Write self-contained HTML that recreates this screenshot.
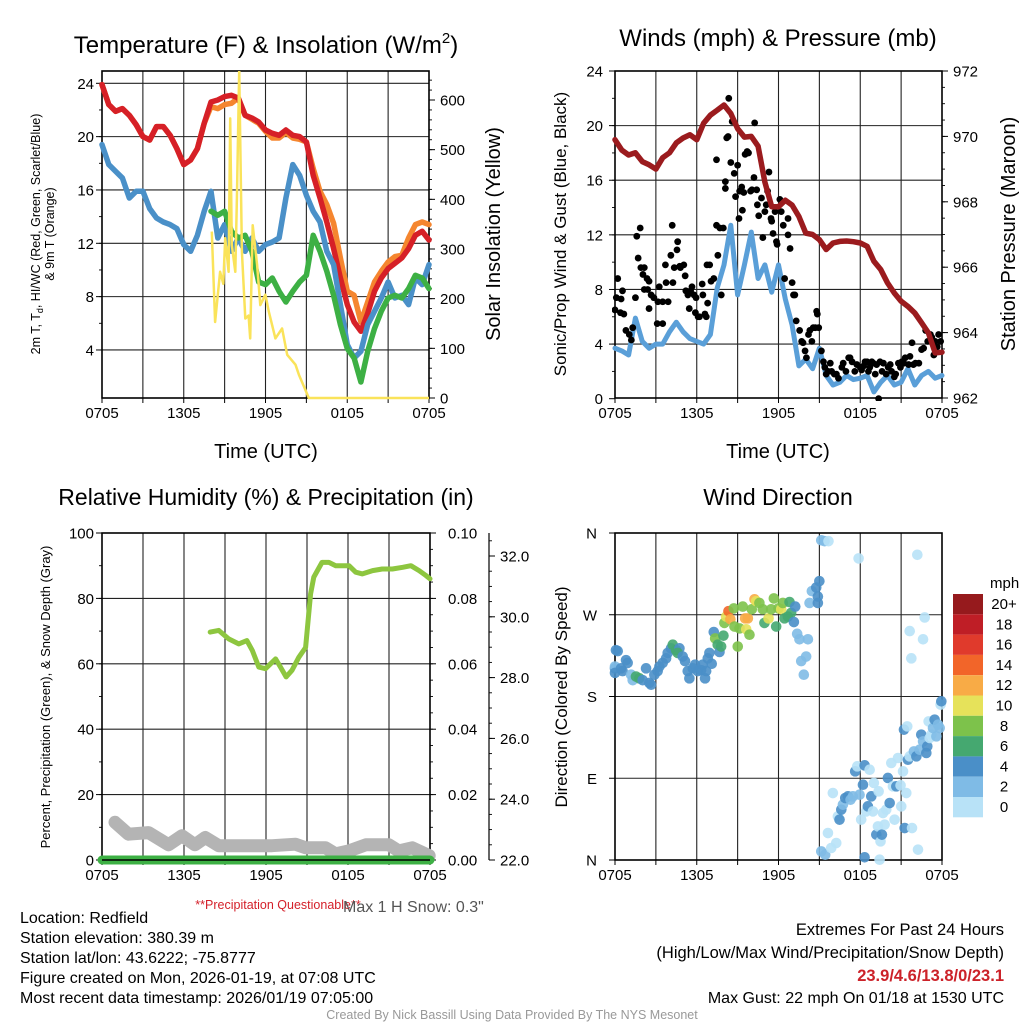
<!DOCTYPE html>
<html><head><meta charset="utf-8"><style>
html,body{margin:0;padding:0;background:#fff}
svg{display:block;font-family:"Liberation Sans",Arial,sans-serif}
</style></head><body>
<svg id="fig" width="1024" height="1024" viewBox="0 0 1024 1024" xmlns="http://www.w3.org/2000/svg">
<rect width="1024" height="1024" fill="#fff"/>
<g id="g1"></g>
<g id="g2"></g>
<g id="g3"></g>
<g id="g4"></g>
<text x="266" y="53" font-size="24" text-anchor="middle">Temperature (F) &amp; Insolation (W/m<tspan font-size="15" dy="-10">2</tspan><tspan dy="10">)</tspan></text>
<text x="778" y="46" font-size="24" text-anchor="middle">Winds (mph) &amp; Pressure (mb)</text>
<text x="266" y="505" font-size="23" text-anchor="middle">Relative Humidity (%) &amp; Precipitation (in)</text>
<text x="778" y="505" font-size="23" text-anchor="middle">Wind Direction</text>
<text x="266" y="458" font-size="20" text-anchor="middle">Time (UTC)</text>
<text x="778" y="458" font-size="20" text-anchor="middle">Time (UTC)</text>
<text transform="translate(40,234) rotate(-90)" font-size="12.5" text-anchor="middle">2m T, T<tspan font-size="9" dy="3">d</tspan><tspan dy="-3">, HI/WC (Red, Green, Scarlet/Blue)</tspan></text>
<text transform="translate(54,234) rotate(-90)" font-size="12.5" text-anchor="middle">&amp; 9m T (Orange)</text>
<text transform="translate(500,234) rotate(-90)" font-size="20" text-anchor="middle">Solar Insolation (Yellow)</text>
<text transform="translate(566,234) rotate(-90)" font-size="17" text-anchor="middle">Sonic/Prop Wind &amp; Gust (Blue, Black)</text>
<text transform="translate(1015,234) rotate(-90)" font-size="20" text-anchor="middle">Station Pressure (Maroon)</text>
<text transform="translate(50,697) rotate(-90)" font-size="13" text-anchor="middle">Percent, Precipitation (Green), &amp; Snow Depth (Gray)</text>
<text transform="translate(567,697) rotate(-90)" font-size="17" text-anchor="middle">Direction (Colored By Speed)</text>
<text x="278" y="909" font-size="12.5" fill="#d4202a" text-anchor="middle">**Precipitation Questionable**</text>
<text x="343" y="912" font-size="16" fill="#555">Max 1 H Snow: 0.3"</text>
<g font-size="16">
<text x="20" y="923">Location: Redfield</text>
<text x="20" y="943">Station elevation: 380.39 m</text>
<text x="20" y="963">Station lat/lon: 43.6222; -75.8777</text>
<text x="20" y="983">Figure created on Mon, 2026-01-19, at 07:08 UTC</text>
<text x="20" y="1003">Most recent data timestamp: 2026/01/19 07:05:00</text>
</g>
<g font-size="16.5" text-anchor="end">
<text x="1004" y="935">Extremes For Past 24 Hours</text>
<text x="1004" y="958">(High/Low/Max Wind/Precipitation/Snow Depth)</text>
<text x="1004" y="981" fill="#cc2229" font-weight="bold">23.9/4.6/13.8/0/23.1</text>
<text x="1004" y="1003" font-size="16">Max Gust: 22 mph On 01/18 at 1530 UTC</text>
</g>
<text x="512" y="1019" font-size="12.5" fill="#999" text-anchor="middle">Created By Nick Bassill Using Data Provided By The NYS Mesonet</text>
</svg>
<script>
// ---------- data (half-hour steps from 0705 UTC) ----------
const timeLabels=["0705","1305","1905","0105","0705"];
const tempT=[23.9,22.4,21.9,22.1,21.6,20.9,20.0,19.75,20.75,20.75,20.1,19.1,17.9,18.25,19.1,21.0,22.6,22.75,23.0,23.1,22.9,21.6,21.4,21.1,20.5,20.25,20.1,20.5,20.1,20.0,19.6,17.1,15.4,13.6,11.6,9.4,7.4,6.1,5.4,6.75,8.4,9.4,10.1,10.5,10.9,11.6,12.6,12.9,12.25];
const temp9m=[23.9,22.4,21.9,22.1,21.6,20.9,20.0,19.75,20.75,20.75,20.1,19.1,17.9,18.25,19.1,21.0,22.25,22.1,22.4,22.5,22.9,21.6,21.3,21.0,20.4,19.9,19.9,20.3,19.9,19.8,19.6,17.6,15.9,14.9,13.5,10.9,8.4,8.1,6.1,7.6,9.1,9.9,10.6,11.0,11.1,12.4,13.4,13.6,13.4];
const dewT=[19.4,17.9,17.4,16.9,15.4,15.9,15.9,14.6,13.9,13.6,13.4,13.1,11.9,11.4,12.6,14.4,15.9,12.4,13.4,11.4,12.4,11.4,12.4,11.4,11.9,12.1,12.4,15.4,17.9,17.1,15.6,14.4,13.6,11.4,10.4,7.4,4.4,3.4,3.9,5.9,6.9,7.9,9.1,7.9,8.1,7.4,9.4,8.9,10.4];
const windChill=[null,null,null,null,null,null,null,null,null,null,null,null,null,null,null,null,14.4,14.1,14.4,12.9,12.4,12.6,11.4,9.1,8.9,9.4,8.4,7.6,8.4,9.1,9.6,12.6,11.4,9.9,8.1,5.9,4.1,3.4,1.6,3.9,5.6,6.9,7.9,8.1,7.9,8.6,9.6,9.4,8.6];
const insolHour=[8.06,8.3,8.67,8.9,9.04,9.29,9.41,9.53,9.78,9.9,10.07,10.27,10.52,10.76,10.88,11.06,11.38,11.62,11.99,12.24,12.73,13.22,13.59,14.2,14.45,15.18,24];
const insolVal=[335,153,254,230,322,254,563,308,254,402,660,295,160,166,120,348,268,187,208,174,120,140,87,67,47,0,0];
const pressure=[969.9,969.58,969.43,969.5,969.23,969.13,969.0,969.35,969.5,969.8,969.95,970.05,969.9,970.4,970.65,970.8,970.96,970.7,970.24,969.98,970.0,969.7,968.6,967.85,967.85,968.05,967.9,967.55,967.04,967.0,966.84,966.54,966.74,966.79,966.8,966.78,966.74,966.64,966.18,965.93,965.52,965.21,964.96,964.8,964.6,964.3,963.99,963.38,963.4];
const windSpd=[3.7,3.5,3.2,5.9,4.2,3.7,4.0,4.0,4.9,5.6,4.9,4.4,4.2,4.0,4.7,8.1,9.8,12.7,7.6,9.8,12.2,8.8,9.8,7.8,9.8,7.3,5.4,2.4,2.9,2.2,3.7,1.7,1.0,1.2,1.7,1.4,1.5,1.7,0.5,1.2,1.7,1.0,1.2,2.2,1.0,1.7,2.0,1.5,1.7];
const gustHour=[0,0.2,0.1,0.45,0.55,0.4,0.65,0.8,1.05,1.2,1.3,1.5,1.6,1.85,1.7,1.9,2.05,2.15,2.35,2.5,2.15,2.4,2.65,2.85,2.5,3.15,3.25,3.1,3.5,3.5,3.75,3.7,3.9,4.1,4.2,4.25,4.35,4.55,4.6,4.75,4.8,5.05,5.15,5.2,5.35,5.45,5.55,5.65,5.8,5.9,5.95,6.1,6.2,6.4,6.45,6.6,6.7,6.75,6.95,6.8,7.05,7.25,7.45,7.55,7.7,7.8,7.95,8.1,8.1,7.45,8.2,8.3,8.35,8.6,8.5,8.75,8.85,9.0,9.1,9.15,9.3,9.35,9.45,9.55,9.7,9.8,9.95,10.05,10.2,10.25,10.4,10.45,10.55,10.75,10.85,11.0,11.1,11.2,11.3,11.45,11.5,11.6,11.75,11.85,11.9,12.1,12.2,12.35,12.45,12.7,12.7,12.85,13.0,13.1,13.2,13.3,13.55,13.7,13.8,13.95,14.05,14.2,14.3,14.45,14.55,14.7,14.8,14.85,14.95,15.15,15.3,15.4,15.5,15.65,15.8,15.9,16.1,16.25,16.4,16.65,16.75,16.95,17.15,17.25,17.4,17.6,17.75,18.0,18.1,18.25,18.35,18.5,18.6,18.7,18.85,18.95,19.1,19.2,19.35,19.45,19.6,19.7,19.9,20.05,20.2,20.3,20.5,20.6,20.8,20.95,21.05,21.2,21.3,21.55,21.65,21.8,21.9,22.05,22.3,22.5,22.65,22.8,22.95,23.15,23.25,23.4,23.5,23.65,23.75,23.9];
const gustVal=[6.5,8.8,7.4,7.3,7.9,6.3,6.2,5.0,4.7,4.3,5.2,7.4,11.9,12.5,10.3,9.6,9.1,9.6,8.8,8.6,8.0,8.0,7.6,7.4,6.6,7.1,8.2,5.5,5.5,7.1,8.5,9.8,7.1,10.5,12.7,8.5,9.6,10.9,11.5,9.7,9.6,9.8,9.0,7.9,7.6,6.6,7.9,8.2,7.6,6.3,7.4,6.0,6.0,8.4,7.6,6.2,6.0,9.8,9.8,7.0,8.6,8.8,12.7,10.5,12.5,7.6,12.5,15.9,15.4,17.5,19.1,19.2,22.0,20.3,17.3,16.5,14.8,17.1,13.2,15.2,15.5,13.8,15.1,17.9,18.1,18.0,15.2,15.3,16.2,20.2,15.3,14.2,13.4,14.7,11.8,13.7,14.2,15.2,16.6,13.2,13.0,12.1,13.7,11.5,11.3,14.6,13.7,12.7,8.8,12.0,13.2,11.0,8.5,7.6,7.6,5.7,5.0,4.2,4.1,3.5,3.0,4.7,5.0,4.2,5.2,5.2,6.4,6.2,5.2,3.5,2.7,2.3,1.8,2.0,2.6,2.0,1.8,1.8,1.5,2.3,2.6,2.0,3.0,3.0,2.7,2.0,2.5,2.3,2.1,2.4,2.7,2.7,2.0,2.3,2.7,2.6,1.8,2.5,0.0,2.7,2.0,2.6,1.8,2.3,2.5,2.0,1.6,1.8,2.6,2.3,2.7,2.6,3.0,2.5,3.1,4.1,2.5,2.6,2.6,3.6,3.7,5.0,4.2,4.7,4.5,3.2,4.2,3.8,4.7,4.2];
const rhHour=[7.92,8.54,9.27,10.0,10.6,11.0,11.47,11.96,12.7,13.06,13.47,13.9,14.4,14.9,15.26,15.5,16.1,16.6,17.1,17.6,18.07,18.56,19.05,19.8,20.5,21.25,22.0,22.6,23.2,23.7,24.0];
const rhVal=[69.7,70.2,67.6,66.1,67.1,64.1,59.0,58.5,61.5,59.0,56.0,58.0,62.0,65.0,81.4,86.5,91.0,91.0,90.0,90.0,90.0,88.0,87.5,88.5,89.0,89.0,89.5,90.0,88.5,87.0,86.0];
const snowHour=[0.95,1.93,3.4,4.87,5.85,6.8,7.56,8.54,10.5,12.45,14.16,14.9,16.36,17.1,18.07,19.3,21.0,21.7,22.7,23.94];
const snowVal=[23.24,22.85,22.9,22.5,22.8,22.5,22.74,22.47,22.47,22.47,22.52,22.4,22.4,22.2,22.3,22.5,22.5,22.3,22.4,22.14];
const precipHour=[0,24];
const precipVal=[0,0];
const dirHour=[0,0.07,0.2,0,0,0.44,0.56,0.81,0.93,1.18,1.3,1.54,1.79,2.03,2.28,2.52,2.65,2.89,3.13,3.26,3.5,3.75,3.87,4.11,4.24,4.48,4.73,4.6,4.97,5.14,5.34,5.46,5.71,5.88,6.07,6.32,6.44,6.61,6.69,6.81,6.93,7.1,7.25,7.35,7.54,7.67,7.79,7.96,8.03,8.16,8.33,8.47,8.72,8.77,9.01,9.14,9.38,9.55,9.63,9.75,9.87,10.04,10.24,10.36,10.6,10.85,10.97,11.27,11.46,11.66,11.83,12.0,12.2,12.32,12.44,12.69,12.81,12.93,13.13,13.23,13.37,13.54,13.67,13.86,14.03,14.16,14.28,14.45,14.77,14.89,15.0,14.89,15.14,15.38,15.67,17.88,22.19,22.73,21.63,22.61,21.75,15.14,15.43,15.63,15.87,15.99,16.24,16.36,16.48,16.61,16.73,16.9,17.1,17.29,17.46,17.63,17.78,17.95,18.07,18.2,18.32,18.44,18.56,18.69,18.81,18.93,19.0,19.18,19.3,19.35,19.49,19.59,19.67,19.79,19.91,20.03,20.16,20.28,20.4,20.52,20.65,20.77,20.96,21.01,21.14,21.21,21.26,21.38,21.45,21.5,21.63,21.8,21.94,22.12,22.24,22.36,22.48,22.61,22.85,22.92,23.02,23.1,23.22,23.34,23.46,23.59,23.71,23.83,23.9,23.95,18.32,19.42];
const dirDeg=[211,231,230,213,206,211,208,220,217,204,198,202,200,198,211,195,193,204,208,213,217,222,228,233,237,231,233,228,224,219,208,200,211,215,208,209,215,200,208,222,228,216,251,244,237,229,235,247,261,268,274,265,277,257,235,255,279,266,254,266,248,276,287,285,283,276,261,266,276,288,257,277,276,283,266,268,284,272,262,279,249,243,219,204,224,243,283,296,300,290,307,283,352,351,351,332,336,267,252,243,222,9.5,5.8,29.7,13.2,73.7,18.7,48,44.4,55.4,60.9,68.2,70.1,66.4,70.1,97.6,103.1,71.9,44.4,82.9,104.2,53.5,59.1,99.4,70.1,53.5,84.8,27.9,37,75.6,20.5,27.9,51.7,38.9,55.4,90.3,62.7,106.8,81.1,44.4,81.1,112.3,82.2,59.1,97.6,143.5,35.2,73.7,147.1,110.4,114.1,35.2,119.6,114.1,11.4,121.4,138,130.6,117.8,125.1,152.6,134.3,138,145.3,154.5,136.1,149,145.3,171,174.7,3,0.3];
const dirSpd=[5,5,5,3,5,5,5,5,5,3,3,7,7,5,5,5,5,5,5,5,5,5,5,5,7,7,5,7,5,5,5,5,5,5,5,5,5,5,5,5,5,5,5,9,7,5,7,7,9,11,15,13,9,9,9,9,9,13,11,13,9,9,13,11,9,9,7,11,9,9,7,9,11,9,7,7,7,7,5,5,3,3,3,3,3,3,3,3,5,5,5,5,3,3,1,1,1,1,1,1,1,3,3,1,1,1,1,1,5,5,3,5,5,3,3,5,1,3,1,5,5,1,5,1,5,1,1,5,1,1,1,5,1,1,1,5,5,1,1,1,5,1,1,1,1,5,5,1,1,5,1,1,3,5,1,3,5,3,5,5,1,1,1,3,5,3,3,3,1,5,5,1];
const cbLabels=["20+","18","16","14","12","10","8","6","4","2","0"];
const cbColors=["#961a1d","#bf1e26","#e03a2c","#f26529","#f8ab46","#e6e25a","#7dc24b","#45a870","#4a8fc8","#7fbbe6","#b8e2f7"];
const tempTicks=[4,8,12,16,20,24];
const insolTicks=[0,100,200,300,400,500,600];
const windTicks=[0,4,8,12,16,20,24];
const presTicks=[962,964,966,968,970,972];
const rhTicks=[0,20,40,60,80,100];
const precipTicks=[0,0.02,0.04,0.06,0.08,0.10];
const snowTicks=[22,24,26,28,30,32];
const dirTicks=[0,90,180,270,360];
const dirLabels=["N","E","S","W","N"];

// ---------- helpers ----------
const NS="http://www.w3.org/2000/svg";
function mk(parent,tag,attrs){const e=document.createElementNS(NS,tag);for(const k in attrs)e.setAttribute(k,attrs[k]);parent.appendChild(e);return e;}
function lin(d0,d1,r0,r1){return v=>r0+(v-d0)*(r1-r0)/(d1-d0);}
function pathFrom(xs,ys,fx,fy){let d="",pen=false;for(let i=0;i<xs.length;i++){if(ys[i]===null){pen=false;continue;}d+=(pen?"L":"M")+fx(xs[i]).toFixed(1)+","+fy(ys[i]).toFixed(1);pen=true;}return d;}
const halfHours=tempT.map((_,i)=>i*0.5);

function frame(g,x0,x1,y0,y1,hLines,fy){
  const fx=lin(0,24,x0,x1);
  for(let h=3;h<24;h+=3){const l=mk(g,"line",{x1:fx(h),x2:fx(h),y1:y0,y2:y1,stroke:"#222","stroke-width":1.1});
    
    }
  hLines.forEach(v=>{const y=fy(v);if(y>y0+1&&y<y1-1){const l=mk(g,"line",{x1:x0,x2:x1,y1:y,y2:y,stroke:"#222","stroke-width":1.1});
    
    }});
  const b=mk(g,"rect",{x:x0,y:y0,width:x1-x0,height:y1-y0,fill:"none",stroke:"#000","stroke-width":1.6});
  
  
  for(let h=0;h<=24;h+=3){mk(g,"line",{x1:fx(h),x2:fx(h),y1:y1,y2:y1+5,stroke:"#000","stroke-width":1});}
  timeLabels.forEach((s,i)=>{const t=mk(g,"text",{x:fx(i*6),y:y1+20,"font-size":15,"text-anchor":"middle"});t.textContent=s;
    
    });
  return fx;
}
function axisTicks(g,x,y0,y1,fy,ticks,minorStep,side,labelFn,lx,anchor,fs){
  const dir=side==="left"?-1:1;
  const hi=ticks[ticks.length-1]+minorStep*20;
  for(let v=ticks[0];;v+=minorStep){const y=fy(v);if(y<y0-0.5)break;if(y<=y1+0.5)mk(g,"line",{x1:x,x2:x+dir*3,y1:y,y2:y,stroke:"#000","stroke-width":0.9});if(v>hi)break;}
  ticks.forEach(v=>{const y=fy(v);mk(g,"line",{x1:x,x2:x+dir*6,y1:y,y2:y,stroke:"#000","stroke-width":1});
    const t=mk(g,"text",{x:lx,y:y+5.5,"font-size":fs||15,"text-anchor":anchor});t.textContent=labelFn(v);
    
    });
}

// ---------- Panel 1 ----------
(function(){
  const g=document.getElementById("g1");
  const x0=102,x1=429,y0=71,y1=398;
  const fy=lin(0,24,403.3,83.3), fi=lin(0,600,398,100);
  const fx=frame(g,x0,x1,y0,y1,tempTicks,fy);
  axisTicks(g,x0,y0,y1,fy,tempTicks,2,"left",v=>String(v),94,"end");
  axisTicks(g,x1,y0,y1,fi,insolTicks,20,"right",v=>String(v),440,"start");
  const cp=mk(g,"clipPath",{id:"c1"});mk(cp,"rect",{x:x0-3,y:y0,width:x1-x0+6,height:y1-y0+2});
  const s=mk(g,"g",{"clip-path":"url(#c1)"});
  const o=mk(s,"path",{d:pathFrom(halfHours,temp9m,fx,fy),fill:"none",stroke:"#f5862f","stroke-width":5.5,"stroke-linejoin":"round","stroke-linecap":"round"});
  
  
  const r=mk(s,"path",{d:pathFrom(halfHours,tempT,fx,fy),fill:"none",stroke:"#d62027","stroke-width":5.5,"stroke-linejoin":"round","stroke-linecap":"round"});
  
  
  const b=mk(s,"path",{d:pathFrom(halfHours,dewT,fx,fy),fill:"none",stroke:"#4a90c8","stroke-width":5.5,"stroke-linejoin":"round","stroke-linecap":"round"});
  
  
  const gr=mk(s,"path",{d:pathFrom(halfHours,windChill,fx,fy),fill:"none",stroke:"#3db044","stroke-width":5.5,"stroke-linejoin":"round","stroke-linecap":"round"});
  
  
  const yl=mk(s,"path",{d:pathFrom(insolHour,insolVal,fx,fi),fill:"none",stroke:"#fae35a","stroke-width":2.5,"stroke-linejoin":"round"});
  
  
})();

// ---------- Panel 2 ----------
(function(){
  const g=document.getElementById("g2");
  const x0=615,x1=942,y0=71,y1=398;
  const fy=lin(0,24,398.7,71), fp=lin(962,972,398,71);
  const fx=frame(g,x0,x1,y0,y1,windTicks,fy);
  axisTicks(g,x0,y0,y1,fy,windTicks,2,"left",v=>String(v),603,"end");
  axisTicks(g,x1,y0,y1,fp,presTicks,0.5,"right",v=>String(v),953,"start");
  const cp=mk(g,"clipPath",{id:"c2"});mk(cp,"rect",{x:x0-3,y:y0-3,width:x1-x0+6,height:y1-y0+6});
  const s=mk(g,"g",{"clip-path":"url(#c2)"});
  const w=mk(s,"path",{d:pathFrom(halfHours,windSpd,fx,fy),fill:"none",stroke:"#5a9fd8","stroke-width":5,"stroke-linejoin":"round","stroke-linecap":"round"});
  
  
  gustHour.forEach((h,i)=>{const c=mk(s,"circle",{cx:fx(h),cy:fy(gustVal[i]),r:3.4,fill:"#000"});
    
    });
  const p=mk(s,"path",{d:pathFrom(halfHours,pressure,fx,fp),fill:"none",stroke:"#9b1b1e","stroke-width":5.5,"stroke-linejoin":"round","stroke-linecap":"round"});
  
  
})();

// ---------- Panel 3 ----------
(function(){
  const g=document.getElementById("g3");
  const x0=102,x1=430,y0=533,y1=860;
  const fy=lin(0,100,860,533), fpr=lin(0,0.1,860,533), fs=lin(22,32,860,556);
  const fx=frame(g,x0,x1,y0,y1,rhTicks,fy);
  axisTicks(g,x0,y0,y1,fy,rhTicks,10,"left",v=>String(v),94,"end");
  axisTicks(g,x1,y0,y1,fpr,precipTicks,0.005,"right",v=>v.toFixed(2),448,"start");
  mk(g,"line",{x1:489,x2:489,y1:533,y2:860,stroke:"#000","stroke-width":1.2});
  axisTicks(g,489,y0,y1,fs,snowTicks,0.5,"right",v=>v.toFixed(1),500,"start");
  const sn=mk(g,"path",{d:pathFrom(snowHour,snowVal,fx,fs),fill:"none",stroke:"#b4b4b4","stroke-width":13,"stroke-linejoin":"round","stroke-linecap":"round"});
  
  
  const pr=mk(g,"path",{d:pathFrom(precipHour,precipVal,fx,fpr),fill:"none",stroke:"#3db044","stroke-width":9,"stroke-linecap":"round"});
  
  
  mk(g,"line",{x1:x0,x2:x1,y1:y1,y2:y1,stroke:"#000","stroke-width":1.5});
  const rh=mk(g,"path",{d:pathFrom(rhHour,rhVal,fx,fy),fill:"none",stroke:"#8dc63f","stroke-width":5,"stroke-linejoin":"round","stroke-linecap":"round"});
  
  
})();

// ---------- Panel 4 ----------
(function(){
  const g=document.getElementById("g4");
  const x0=615,x1=942,y0=533,y1=860;
  const fy=lin(0,360,860,533);
  const fx=frame(g,x0,x1,y0,y1,dirTicks,fy);
  dirTicks.forEach((v,i)=>{const y=fy(v);mk(g,"line",{x1:x0,x2:x0-6,y1:y,y2:y,stroke:"#000"});
    const t=mk(g,"text",{x:597,y:y+5.5,"font-size":15,"text-anchor":"end"});t.textContent=dirLabels[i];
    
    });
  function col(sp){let k=Math.min(10,Math.floor(sp/2));return cbColors[10-k];}
  dirHour.forEach((h,i)=>{const c=mk(g,"circle",{cx:fx(h),cy:fy(dirDeg[i]),r:5.3,fill:col(dirSpd[i]),"fill-opacity":0.9});
    
    });
  const lg=mk(g,"g",{});
  
  
  const t0=mk(lg,"text",{x:990,y:588,"font-size":15});t0.textContent="mph";
  cbColors.forEach((c,i)=>{mk(lg,"rect",{x:953,y:594+i*20.3,width:30,height:20.3,fill:c});
    const t=mk(lg,"text",{x:1004,y:609+i*20.3,"font-size":15,"text-anchor":"middle"});t.textContent=cbLabels[i];
    
    });
})();
</script>
</body></html>
